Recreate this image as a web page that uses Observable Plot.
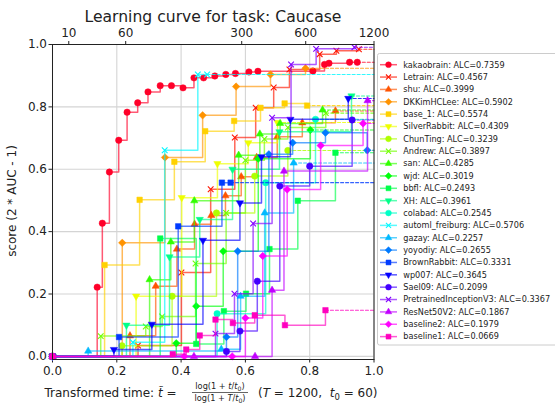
<!DOCTYPE html>
<html><head><meta charset="utf-8">
<script src="https://cdn.jsdelivr.net/npm/d3@7"></script>
<script src="https://cdn.jsdelivr.net/npm/@observablehq/plot@0.6"></script>
<style>body{margin:0;background:#fff}</style>
</head><body><div id="chart"></div>
<script>
// ---------- data ----------
const teams = ["kakaobrain","Letrain","shu","DKKimHCLee","base_1","SilverRabbit","ChunTing","Andrew","san","wjd","bbfl","XH","colabad","automl_freiburg","gazay","yoyodiy","BrownRabbit","wp007","Sael09","PretrainedInceptionV3","ResNet50V2","baseline2","baseline1"];
const alc = ["0.7359","0.4567","0.3999","0.5902","0.5574","0.4309","0.3239","0.3897","0.4285","0.3019","0.2493","0.3961","0.2545","0.5706","0.2257","0.2655","0.3331","0.3645","0.2099","0.3367","0.1867","0.1979","0.0669"];
const markerCycle = ["o","x","^","D","s","v"];
// transformed times of each prediction
const times = [
  [0.139,0.155,0.177,0.206,0.232,0.265,0.297,0.335,0.370,0.406,0.440,0.470,0.505,0.539,0.569,0.611,0.639,0.810,0.846,0.860,0.924,0.948],
  [0.266,0.401,0.492,0.567,0.632,0.688,0.737,0.831,0.883,0.953],
  [0.241,0.321,0.387,0.442,0.494,0.538,0.587,0.635,0.699,0.777,0.880],
  [0.217,0.350,0.467,0.571,0.678,0.787],
  [0.162,0.271,0.379,0.475,0.565,0.647,0.722,0.792],
  [0.260,0.402,0.513,0.609,0.700],
  [0.216,0.372,0.510,0.629,0.732],
  [0.150,0.290,0.341,0.445,0.540,0.600,0.659,0.732,0.850],
  [0.302,0.368,0.441,0.579,0.645,0.708,0.840],
  [0.385,0.447,0.531,0.640,0.802],
  [0.335,0.447,0.533,0.602,0.675,0.763,0.880],
  [0.230,0.364,0.458,0.560,0.706,0.930],
  [0.512,0.663,0.818],
  [0.250,0.349,0.452,0.481],
  [0.111,0.525,0.585,0.660,0.750],
  [0.541,0.576,0.673,0.747,0.849,0.979],
  [0.207,0.391,0.527,0.554],
  [0.191,0.309,0.468,0.583,0.650,0.740,0.920],
  [0.541,0.583,0.637,0.707,0.800,0.932],
  [0.507,0.566,0.624,0.683,0.742,0.820,0.939],
  [0.440,0.630,0.683,0.720,0.980],
  [0.410,0.559,0.600,0.654,0.730,0.834,0.966],
  [0.374,0.416,0.458,0.507,0.561,0.629,0.723,0.849]
];
// scores (2*AUC-1)
const scores = [
  [0.222,0.427,0.591,0.693,0.783,0.813,0.848,0.868,0.868,0.861,0.893,0.893,0.899,0.904,0.907,0.912,0.914,0.915,0.936,0.940,0.943,0.943],
  [0.035,0.269,0.536,0.702,0.797,0.862,0.920,0.969,0.980,0.985],
  [0.066,0.225,0.344,0.424,0.452,0.515,0.576,0.638,0.704,0.749,0.787],
  [0.364,0.638,0.773,0.865,0.904,0.924],
  [0.293,0.502,0.624,0.722,0.755,0.797,0.811,0.804],
  [0.193,0.509,0.618,0.685,0.750],
  [0.034,0.193,0.460,0.578,0.660],
  [0.065,0.096,0.128,0.298,0.460,0.629,0.697,0.734,0.780],
  [0.246,0.367,0.499,0.645,0.713,0.747,0.790],
  [0.042,0.161,0.337,0.634,0.726],
  [0.378,0.040,0.145,0.201,0.344,0.499,0.653],
  [0.100,0.319,0.439,0.600,0.720,0.835],
  [0.137,0.557,0.760],
  [0.045,0.661,0.904,0.904],
  [0.017,0.023,0.193,0.460,0.620],
  [0.062,0.337,0.648,0.685,0.717,0.661],
  [0.062,0.417,0.557,0.557],
  [0.022,0.103,0.372,0.492,0.640,0.760,0.827],
  [0.016,0.081,0.241,0.546,0.610,0.758],
  [0.073,0.201,0.426,0.765,0.936,0.986,0.991],
  [0.000,0.000,0.212,0.594,0.820],
  [0.000,0.000,0.123,0.322,0.535,0.676,0.747],
  [0.007,0.022,0.067,0.118,0.107,0.132,0.100,0.148]
];
const xTicks = [0, 0.2, 0.4, 0.6, 0.8, 1.0];
const yTicks = [0, 0.2, 0.4, 0.6, 0.8, 1.0];
const topTicks = [10, 60, 300, 600, 1200];
const T = 1200, t0 = 60;
const tr = t => Math.log(1 + t / t0) / Math.log(1 + T / t0);

// ---------- styling helpers ----------
const GR = [[0,[1,0,0.16]],[0.03,[1,0,0]],[0.215,[1,1,0]],[0.4,[0,1,0]],[0.586,[0,1,1]],[0.77,[0,0,1]],[0.954,[1,0,1]],[1,[1,0,0.75]]];
function gistRainbow(t) {
  for (let k = 0; k < GR.length - 1; k++) {
    const [a, ca] = GR[k], [b, cb] = GR[k + 1];
    if (t <= b) {
      const f = (t - a) / (b - a);
      return d3.rgb(...ca.map((v, j) => Math.round(255 * (v + (cb[j] - v) * f)))).formatHex();
    }
  }
}
const n = teams.length;
const colors = teams.map((_, i) => gistRainbow(i / (n - 1)));
const s3 = Math.sqrt(3);
const triDown = {draw(ctx, size) { const y = -Math.sqrt(size / (s3 * 3)); ctx.moveTo(0, -y * 2); ctx.lineTo(-s3 * y, y); ctx.lineTo(s3 * y, y); ctx.closePath(); }};
const triUp = {draw(ctx, size) { const y = -Math.sqrt(size / (s3 * 3)); ctx.moveTo(0, y * 2); ctx.lineTo(-s3 * y, -y); ctx.lineTo(s3 * y, -y); ctx.closePath(); }};
const diamond = {draw(ctx, size) { const r = Math.sqrt(size) * 0.68; ctx.moveTo(0, -r); ctx.lineTo(r, 0); ctx.lineTo(0, r); ctx.lineTo(-r, 0); ctx.closePath(); }};
const square = {draw(ctx, size) { const w = Math.sqrt(size), x = -w / 2; ctx.rect(x, x, w, w); }};
const times4 = {draw(ctx, size) { const r = Math.sqrt(size) * 0.5; ctx.moveTo(-r, -r); ctx.lineTo(r, r); ctx.moveTo(-r, r); ctx.lineTo(r, -r); }};
const tickUp = {draw(ctx) { ctx.moveTo(0, 0); ctx.lineTo(0, -3.5); }};
const symbolFor = {o: d3.symbolCircle, x: times4, "^": triUp, D: diamond, s: square, v: triDown};
const rFor = {o: 3.2, x: 3.2, "^": 2.7, D: 3.1, s: 3.1, v: 2.7};

// ---------- marks ----------
const marks = [
  Plot.ruleX(xTicks, {stroke: "#d4d4d4", strokeWidth: 1.1}),
  Plot.ruleY(yTicks, {stroke: "#d4d4d4", strokeWidth: 1.1})
];
teams.forEach((name, i) => {
  const pts = [{x: 0, y: 0}].concat(times[i].map((x, j) => ({x, y: scores[i][j]})));
  const last = pts[pts.length - 1];
  const c = colors[i];
  const m = markerCycle[i % markerCycle.length];
  marks.push(Plot.line(pts, {x: "x", y: "y", curve: "step-after", stroke: c, strokeWidth: 1.5, strokeOpacity: 0.65}));
  marks.push(Plot.line([last, {x: 1, y: last.y}], {x: "x", y: "y", stroke: c, strokeWidth: 1.1, strokeOpacity: 0.8, strokeDasharray: "3,2"}));
  const isStroke = m === "x";
  marks.push(Plot.dot(pts, {x: "x", y: "y", symbol: symbolFor[m], r: rFor[m],
    fill: isStroke ? "none" : c, stroke: c, strokeWidth: isStroke ? 1.1 : 0.5}));
});
marks.push(Plot.frame({stroke: "#222", strokeWidth: 1}));
marks.push(Plot.dot(topTicks, {x: d => tr(d), y: 1, symbol: tickUp, stroke: "#222", strokeWidth: 1}));
marks.push(Plot.text(topTicks, {x: d => tr(d), y: 1, text: d => String(d), dy: -11, fontSize: 12, fill: "#222"}));

const chart = Plot.plot({
  width: 555, height: 404,
  marginLeft: 52, marginRight: 181.5, marginTop: 44, marginBottom: 45,
  x: {domain: [0, 1], ticks: xTicks, tickFormat: d3.format(".1f"), tickSize: 3.5, tickPadding: 3, label: null},
  y: {domain: [-0.01, 1], ticks: yTicks, tickFormat: d3.format(".1f"), tickSize: 3.5, tickPadding: 2, label: null},
  style: {fontFamily: "DejaVu Sans", fontSize: "12px", background: "white", color: "#222", overflow: "visible"},
  marks
});
document.getElementById("chart").appendChild(chart);

// ---------- title, axis labels, legend ----------
const svg = d3.select(chart);
const F = "DejaVu Sans";
svg.append("text").attr("x", 213).attr("y", 21.5).attr("text-anchor", "middle")
  .attr("font-family", F).attr("font-size", 15.6).attr("fill", "#222")
  .text("Learning curve for task: Caucase");
svg.append("text").attr("transform", "translate(16,201) rotate(-90)").attr("text-anchor", "middle")
  .attr("font-family", F).attr("font-size", 12).attr("fill", "#222")
  .text("score (2 * AUC - 1)");
const xl = svg.append("g").attr("font-family", F).attr("fill", "#222");
const t1 = xl.append("text").attr("x", 44.5).attr("y", 397).attr("font-size", 12).attr("text-anchor", "start");
t1.append("tspan").text("Transformed time: ");
t1.append("tspan").attr("font-style", "italic").text("t\u0303");
t1.append("tspan").text(" = ");
function frac(y, big) {
  const t = xl.append("text").attr("x", 220).attr("y", y).attr("text-anchor", "middle").attr("font-size", 8.2);
  t.append("tspan").text("log(1 + ");
  t.append("tspan").attr("font-style", "italic").text(big ? "T" : "t");
  t.append("tspan").text("/");
  t.append("tspan").attr("font-style", "italic").text("t");
  t.append("tspan").attr("font-size", 6.2).attr("dy", 1.5).text("0");
  t.append("tspan").attr("dy", -1.5).text(")");
}
frac(389, false);
frac(401, true);
xl.append("line").attr("x1", 192).attr("x2", 248).attr("y1", 392.5).attr("y2", 392.5).attr("stroke", "#222").attr("stroke-width", 0.7);
const t2 = xl.append("text").attr("x", 258).attr("y", 397).attr("font-size", 12).attr("text-anchor", "start");
t2.append("tspan").text("(");
t2.append("tspan").attr("font-style", "italic").text("T");
t2.append("tspan").text(" = 1200,  ");
t2.append("tspan").attr("font-style", "italic").text("t");
t2.append("tspan").attr("font-size", 8.5).attr("dy", 2.5).text("0");
t2.append("tspan").attr("dy", -2.5).text(" = 60)");

const lg = svg.append("g");
lg.append("rect").attr("x", 377.5).attr("y", 53.5).attr("width", 200).attr("height", 291.5).attr("rx", 2)
  .attr("fill", "white").attr("stroke", "#cccccc").attr("stroke-width", 1);
teams.forEach((name, i) => {
  const y = 64.7 + i * 12.36;
  const c = colors[i];
  const m = markerCycle[i % markerCycle.length];
  lg.append("line").attr("x1", 380).attr("x2", 397).attr("y1", y).attr("y2", y)
    .attr("stroke", c).attr("stroke-width", 1.5).attr("stroke-opacity", 0.65);
  const r = rFor[m] * 0.9;
  lg.append("path").attr("transform", `translate(388.5,${y})`)
    .attr("d", d3.symbol(symbolFor[m], Math.PI * r * r)())
    .attr("fill", m === "x" ? "none" : c).attr("stroke", c).attr("stroke-width", m === "x" ? 1.1 : 0.5);
  lg.append("text").attr("x", 403.3).attr("y", y).attr("dy", "0.35em").attr("text-anchor", "start")
    .attr("font-family", F).attr("font-size", 8.15).attr("fill", "#222")
    .text(`${name}: ALC=${alc[i]}`);
});
</script></body></html>
